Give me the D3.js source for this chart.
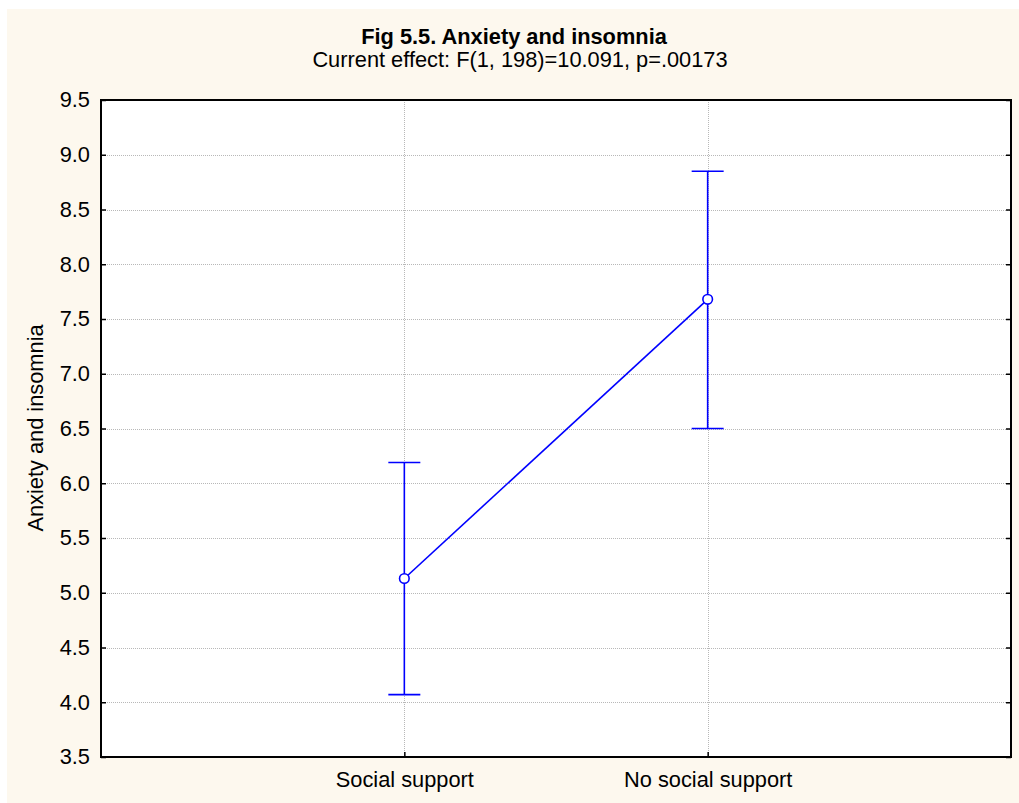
<!DOCTYPE html>
<html>
<head>
<meta charset="utf-8">
<script src="https://cdn.jsdelivr.net/npm/d3@7/dist/d3.min.js"></script>
<style>
  html, body { margin: 0; padding: 0; background: #ffffff; }
  svg { display: block; font-family: "Liberation Sans", Arial, sans-serif; }
</style>
</head>
<body>
<svg id="chart" width="1019" height="803"></svg>
<script>
// Group means with their confidence limits
const categories = ["Social support", "No social support"];
const means = [5.13, 7.68];
const upper = [6.19, 8.85];
const lower = [4.07, 6.50];
const yTicks = [3.5, 4.0, 4.5, 5.0, 5.5, 6.0, 6.5, 7.0, 7.5, 8.0, 8.5, 9.0, 9.5];

const svg = d3.select("#chart");
const W = 1019, H = 803;
const plot = { left: 101, top: 100, right: 1011, bottom: 757 };
const fs = 21.8;
const font = "Liberation Sans, Arial, sans-serif";

// Panel background
svg.append("rect").attr("x", 7).attr("y", 9).attr("width", W - 7).attr("height", H - 9)
  .attr("fill", "#fdf8ee");

// Plot area
svg.append("rect").attr("x", plot.left).attr("y", plot.top)
  .attr("width", plot.right - plot.left).attr("height", plot.bottom - plot.top)
  .attr("fill", "#ffffff");

const x = d3.scalePoint().domain(categories).range([plot.left, plot.right]).padding(1);
const y = d3.scaleLinear().domain([3.5, 9.5]).range([plot.bottom, plot.top]);

// Gridlines
const grid = svg.append("g").attr("stroke", "#b8b8b8").attr("stroke-width", 1)
  .attr("stroke-dasharray", "1,1").attr("shape-rendering", "crispEdges");
grid.selectAll("line.h").data(yTicks.filter(t => t > 3.5 && t < 9.5)).join("line")
  .attr("class", "h")
  .attr("x1", plot.left).attr("x2", plot.right)
  .attr("y1", d => Math.round(y(d)) + 0.5).attr("y2", d => Math.round(y(d)) + 0.5);
grid.selectAll("line.v").data(categories).join("line")
  .attr("class", "v")
  .attr("y1", plot.top).attr("y2", plot.bottom)
  .attr("x1", d => Math.round(x(d)) + 0.5).attr("x2", d => Math.round(x(d)) + 0.5);

// Axes with inward ticks
const yAxisL = d3.axisLeft(y).tickValues(yTicks).tickFormat(d3.format(".1f")).tickSizeInner(-5).tickSizeOuter(0).tickPadding(11);
const gL = svg.append("g").attr("transform", `translate(${plot.left},0)`).call(yAxisL);
gL.select(".domain").remove();
gL.selectAll("text").attr("font-size", fs).attr("fill", "#000").attr("font-family", font);
gL.selectAll("line").attr("stroke", "#000").attr("stroke-width", 1.5);

const yAxisR = d3.axisRight(y).tickValues(yTicks).tickFormat("").tickSizeInner(-5).tickSizeOuter(0);
const gR = svg.append("g").attr("transform", `translate(${plot.right},0)`).call(yAxisR);
gR.select(".domain").remove();
gR.selectAll("line").attr("stroke", "#000").attr("stroke-width", 1.5);

const xAxis = d3.axisBottom(x).tickSizeInner(-5).tickSizeOuter(0).tickPadding(15);
const gB = svg.append("g").attr("transform", `translate(0,${plot.bottom})`).call(xAxis);
gB.select(".domain").remove();
gB.selectAll("text").attr("font-size", fs).attr("fill", "#000").attr("font-family", font);
gB.selectAll("line").attr("stroke", "#000").attr("stroke-width", 1.5);

// Frame
svg.append("rect").attr("x", plot.left).attr("y", plot.top)
  .attr("width", plot.right - plot.left).attr("height", plot.bottom - plot.top)
  .attr("fill", "none").attr("stroke", "#000").attr("stroke-width", 2);

// Error bars
const blue = "#0000ff";
const eb = svg.append("g").attr("stroke", blue).attr("stroke-width", 1.6).attr("fill", "none");
categories.forEach((c, i) => {
  const cx = x(c);
  eb.append("line").attr("x1", cx).attr("x2", cx).attr("y1", y(upper[i])).attr("y2", y(lower[i]));
  eb.append("line").attr("x1", cx - 16).attr("x2", cx + 16).attr("y1", y(upper[i])).attr("y2", y(upper[i]));
  eb.append("line").attr("x1", cx - 16).attr("x2", cx + 16).attr("y1", y(lower[i])).attr("y2", y(lower[i]));
});

// Mean line and markers
const pts = categories.map((c, i) => [x(c), y(means[i])]);
svg.append("path").attr("d", d3.line()(pts)).attr("stroke", blue).attr("stroke-width", 1.6).attr("fill", "none");
svg.selectAll("circle.mean").data(pts).join("circle")
  .attr("class", "mean")
  .attr("cx", d => d[0]).attr("cy", d => d[1]).attr("r", 4.8)
  .attr("fill", "#fff").attr("stroke", blue).attr("stroke-width", 1.6);

// Titles, centred on the panel
svg.append("text").attr("x", 514).attr("y", 44)
  .attr("text-anchor", "middle").attr("font-size", fs).attr("font-weight", "bold")
  .text("Fig 5.5. Anxiety and insomnia");
svg.append("text").attr("x", 520).attr("y", 67)
  .attr("text-anchor", "middle").attr("font-size", fs)
  .text("Current effect: F(1, 198)=10.091, p=.00173");

// Y-axis title
svg.append("text").attr("transform", `translate(43,428) rotate(-90)`)
  .attr("text-anchor", "middle").attr("font-size", fs)
  .text("Anxiety and insomnia");
</script>
</body>
</html>
